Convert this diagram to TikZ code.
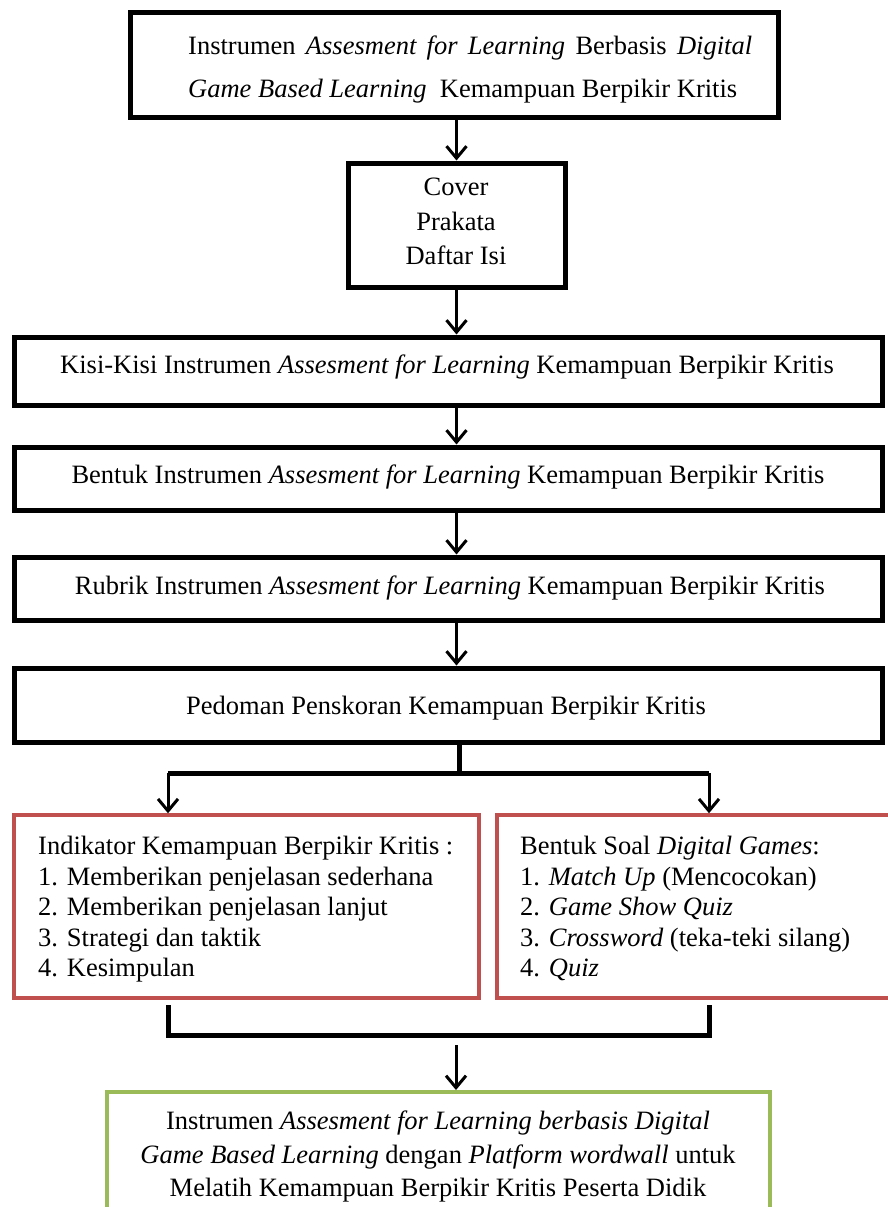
\documentclass[tikz,border=0pt]{standalone}
\usepackage{fontspec}
\setmainfont{Liberation Serif}
\usetikzlibrary{arrows.meta,shadows}
\definecolor{boxred}{HTML}{C0504D}
\definecolor{boxgreen}{HTML}{9BBB59}
\begin{document}
\begin{tikzpicture}[x=1pt,y=-1pt,
  font=\fontsize{26.5}{30.5}\selectfont,
  shadowed/.style={drop shadow={shadow xshift=2pt,shadow yshift=-2pt,opacity=0.3}},
  blackbox/.style={draw=black,line width=5pt,fill=white,shadowed,inner sep=0pt},
  redbox/.style={draw=boxred,line width=3.5pt,fill=white,shadowed,inner sep=0pt},
  greenbox/.style={draw=boxgreen,line width=4pt,fill=white,shadowed,inner sep=0pt},
  txt/.style={inner sep=0pt},
  arr/.style={line width=3pt,-{Straight Barb[length=12pt,width=20pt,line width=3pt]}},
  thickline/.style={line width=5pt,line join=miter}]
\useasboundingbox (0,0) rectangle (887,1207);

% boxes
\node[blackbox,minimum width=648pt,minimum height=104pt] (b1) at (454,65) {};
\node[blackbox,minimum width=217pt,minimum height=124pt] (cov) at (456.5,225) {};
\node[blackbox,minimum width=868pt,minimum height=68pt] (kisi) at (448,371) {};
\node[blackbox,minimum width=868pt,minimum height=63pt] (bentuk) at (448,478.5) {};
\node[blackbox,minimum width=868pt,minimum height=63pt] (rubrik) at (448,588.5) {};
\node[blackbox,minimum width=868pt,minimum height=74pt] (ped) at (448,705) {};
\node[redbox,minimum width=465pt,minimum height=183pt] (ind) at (246.5,906.5) {};
\node[redbox,minimum width=408pt,minimum height=183pt] (soal) at (701,906.5) {};
\node[greenbox,minimum width=663pt,minimum height=140pt] (grn) at (438.5,1162) {};

% texts
\node[txt,anchor=north west,align=left,font=\fontsize{26.5}{43}\selectfont] (t1) at (188,36)
  {\makebox[564pt][s]{Instrumen \textit{Assesment for Learning} Berbasis \textit{Digital}}\\
   \textit{Game Based Learning}\ \ Kemampuan Berpikir Kritis};
\node[txt,anchor=north,align=center,font=\fontsize{26.5}{34.5}\selectfont] (tcov) at (456,178)
  {Cover\\Prakata\\Daftar Isi};
\node[txt,anchor=base] (tkisi) at (447,373)
  {Kisi-Kisi Instrumen \textit{Assesment for Learning} Kemampuan Berpikir Kritis};
\node[txt,anchor=base] (tbentuk) at (448,483)
  {Bentuk Instrumen \textit{Assesment for Learning} Kemampuan Berpikir Kritis};
\node[txt,anchor=base] (trubrik) at (450,594)
  {Rubrik Instrumen \textit{Assesment for Learning} Kemampuan Berpikir Kritis};
\node[txt,anchor=base] (tped) at (446,714)
  {Pedoman Penskoran Kemampuan Berpikir Kritis};
\node[txt,anchor=north west,align=left] (tind) at (38,836)
  {Indikator Kemampuan Berpikir Kritis :\\
   1. Memberikan penjelasan sederhana\\
   2. Memberikan penjelasan lanjut\\
   3. Strategi dan taktik\\
   4. Kesimpulan};
\node[txt,anchor=north west,align=left] (tsoal) at (520,836)
  {Bentuk Soal \textit{Digital Games}:\\
   1. \textit{Match Up} (Mencocokan)\\
   2. \textit{Game Show Quiz}\\
   3. \textit{Crossword} (teka-teki silang)\\
   4. \textit{Quiz}};
\node[txt,anchor=north,align=center,font=\fontsize{26.5}{33.5}\selectfont] (tgrn) at (438,1111)
  {Instrumen \textit{Assesment for Learning berbasis Digital}\\
   \textit{Game Based Learning} dengan \textit{Platform wordwall} untuk\\
   Melatih Kemampuan Berpikir Kritis Peserta Didik};

% connectors
\draw[arr] (b1.south -| cov.north) -- (cov.north);
\draw[arr] (cov.south) -- (cov.south |- kisi.north);
\draw[arr] (kisi.south -| cov.south) -- (cov.south |- bentuk.north);
\draw[arr] (bentuk.south -| cov.south) -- (cov.south |- rubrik.north);
\draw[arr] (rubrik.south -| cov.south) -- (cov.south |- ped.north);

\coordinate (jt) at (459,773);
\coordinate (sl) at (168,773);
\coordinate (sr) at (709,773);
\draw[thickline] (ped.south -| jt) -- (jt);
\draw[thickline] (sl) -- (sr);
\draw[arr] (sl) -- (sl |- ind.north);
\draw[arr] (sr) -- (sr |- soal.north);

\coordinate (bl) at (168,1005);
\coordinate (br) at (709,1005);
\coordinate (bl2) at (168,1035);
\coordinate (br2) at (709,1035);
\draw[thickline] (bl) -- (bl2) -- (br2) -- (br);
\coordinate (a0) at (456,1045);
\draw[arr] (a0) -- (a0 |- grn.north);
\end{tikzpicture}
\end{document}
